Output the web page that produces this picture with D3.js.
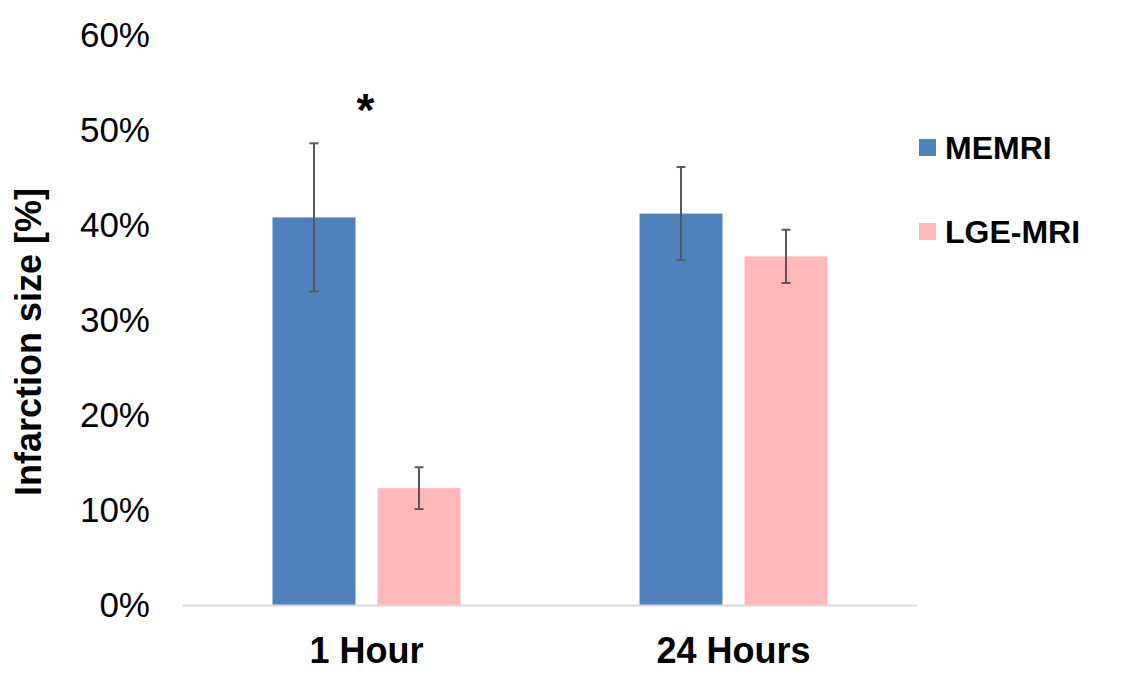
<!DOCTYPE html>
<html>
<head>
<meta charset="utf-8">
<script src="https://cdn.jsdelivr.net/npm/d3@7"></script>
<style>
  html, body { margin: 0; padding: 0; background: #fff; }
  svg { display: block; font-family: "Liberation Sans", Arial, sans-serif; }
</style>
</head>
<body>
<svg id="chart" width="1139" height="684"></svg>
<script>
// chart values
const categories = ["1 Hour", "24 Hours"];
const seriesNames = ["MEMRI", "LGE-MRI"];
const memriValues = [40.8, 41.2];
const memriErrors = [7.8, 4.9];
const lgeValues = [12.3, 36.7];
const lgeErrors = [2.2, 2.8];
const yTicks = [0, 10, 20, 30, 40, 50, 60];
const sigCategories = ["1 Hour"]; // "*" marker

const colors = { "MEMRI": "#4f81bd", "LGE-MRI": "#ffb7b8" };

function draw() {
  const svg = d3.select('#chart');

  const y = d3.scaleLinear()
    .domain([0, 60])
    .range([605, 35]);

  const x0 = d3.scaleBand()
    .domain(categories)
    .range([183, 917]);

  const bw = x0.bandwidth();
  const x1 = d3.scaleBand()
    .domain(seriesNames)
    .range([bw / 2 - 94, bw / 2 + 94])
    .paddingInner(0.21);

  // build rows from the arrays
  const rows = [];
  categories.forEach((c, i) => {
    rows.push({ cat: c, series: "MEMRI", v: memriValues[i], e: memriErrors[i] });
    rows.push({ cat: c, series: "LGE-MRI", v: lgeValues[i], e: lgeErrors[i] });
  });

  // y tick labels (no gridlines)
  svg.append('g')
    .selectAll('text')
    .data(yTicks)
    .enter()
    .append('text')
      .attr('x', 150)
      .attr('y', d => y(d))
      .attr('dy', '0.35em')
      .attr('text-anchor', 'end')
      .style('font-size', '35px')
      .attr('fill', '#000')
      .text(d => d + '%');

  // y axis title
  svg.append('text')
    .attr('transform', 'translate(41,342) rotate(-90)')
    .attr('text-anchor', 'middle')
    .style('font-size', '36px')
    .style('font-weight', 'bold')
    .text('Infarction size [%]');

  // bars
  svg.append('g')
    .selectAll('rect')
    .data(rows)
    .enter()
    .append('rect')
      .attr('x', d => x0(d.cat) + x1(d.series))
      .attr('y', d => y(d.v))
      .attr('width', x1.bandwidth())
      .attr('height', d => y(0) - y(d.v))
      .attr('fill', d => colors[d.series]);

  // baseline
  svg.append('line')
    .attr('x1', x0.range()[0])
    .attr('x2', x0.range()[1])
    .attr('y1', y(0) + 0.5)
    .attr('y2', y(0) + 0.5)
    .attr('stroke', '#d9d9d9')
    .attr('stroke-width', 2);

  // error bars
  const err = svg.append('g')
    .selectAll('g')
    .data(rows)
    .enter()
    .append('g')
      .attr('stroke', '#595959')
      .attr('stroke-width', 2);

  const cx = d => x0(d.cat) + x1(d.series) + x1.bandwidth() / 2;
  err.append('line')
    .attr('x1', cx).attr('x2', cx)
    .attr('y1', d => y(d.v + d.e))
    .attr('y2', d => y(d.v - d.e));
  err.append('line')
    .attr('x1', d => cx(d) - 4.5).attr('x2', d => cx(d) + 4.5)
    .attr('y1', d => y(d.v + d.e))
    .attr('y2', d => y(d.v + d.e));
  err.append('line')
    .attr('x1', d => cx(d) - 4.5).attr('x2', d => cx(d) + 4.5)
    .attr('y1', d => y(d.v - d.e))
    .attr('y2', d => y(d.v - d.e));

  // significance marker
  svg.append('g')
    .selectAll('text')
    .data(sigCategories)
    .enter()
    .append('text')
      .attr('x', d => x0(d) + bw / 2 - 1)
      .attr('y', d => {
        const i = categories.indexOf(d);
        return y(memriValues[i] + memriErrors[i]) - 17;
      })
      .attr('text-anchor', 'middle')
      .style('font-size', '46px')
      .style('font-weight', 'bold')
      .text('*');

  // category labels
  svg.append('g')
    .selectAll('text')
    .data(categories)
    .enter()
    .append('text')
      .attr('x', d => x0(d) + bw / 2)
      .attr('y', 663)
      .attr('text-anchor', 'middle')
      .style('font-size', '36px')
      .style('font-weight', 'bold')
      .text(d => d);

  // legend
  const legend = svg.append('g')
    .selectAll('g')
    .data(seriesNames)
    .enter()
    .append('g')
      .attr('transform', (d, i) => 'translate(919,' + (139 + i * 84) + ')');

  legend.append('rect')
    .attr('width', 17)
    .attr('height', 17)
    .attr('fill', d => colors[d]);

  legend.append('text')
    .attr('x', 26)
    .attr('y', 20)
    .style('font-size', '32px')
    .style('font-weight', 'bold')
    .text(d => d);
}

if (document.readyState === "loading") {
  document.addEventListener("DOMContentLoaded", draw);
} else {
  draw();
}
</script>
</body>
</html>
